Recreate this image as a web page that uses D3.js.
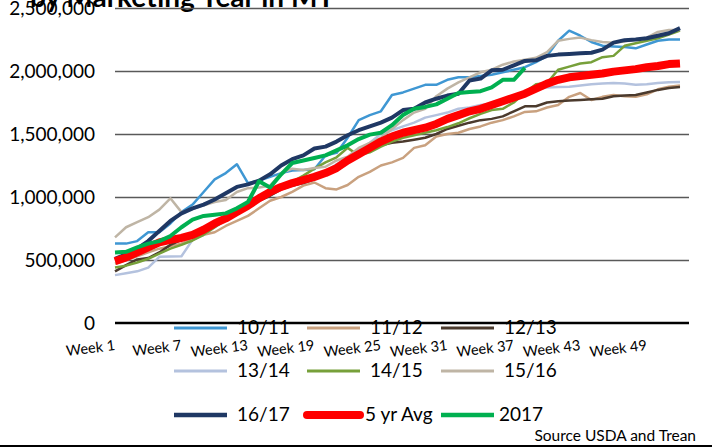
<!DOCTYPE html>
<html>
<head>
<meta charset="utf-8">
<script src="https://cdn.jsdelivr.net/npm/d3@7"></script>
<style>
  body { margin: 0; background: #fff; }
  text { font-family: Lato, "Open Sans", sans-serif; fill: #000; }
</style>
</head>
<body>
<div id="chart"></div>
<script>

// values in thousand MT, week 1..52
let weeks = d3.range(1, 53);
let yTicks = [0, 500, 1000, 1500, 2000, 2500];
let weekTicks = [1, 7, 13, 19, 25, 31, 37, 43, 49];

let s1011 = [630, 630, 650, 720, 720, 790, 880, 940, 1040, 1140, 1190, 1260, 1110, 1130, 1160, 1190, 1210, 1215, 1220, 1330,
    1350, 1470, 1610, 1650, 1680, 1810, 1830, 1860, 1890, 1890, 1930, 1950, 1950, 1960, 1970, 1990, 2010, 2030, 2070, 2120,
    2240, 2320, 2280, 2230, 2200, 2195, 2190, 2180, 2210, 2240, 2250, 2250];
let s1112 = [470, 500, 530, 560, 590, 610, 630, 670, 700, 720, 770, 810, 850, 910, 970, 1000, 1040, 1090, 1115, 1070,
    1060, 1095, 1160, 1200, 1250, 1275, 1310, 1390, 1410, 1480, 1500, 1510, 1540, 1560, 1590, 1610, 1640, 1675, 1680, 1710,
    1730, 1795, 1825, 1770, 1795, 1810, 1800, 1795, 1815, 1855, 1875, 1885];
let s1213 = [410, 460, 505, 515, 560, 620, 660, 700, 740, 780, 830, 880, 920, 970, 1010, 1060, 1090, 1110, 1140, 1180,
    1230, 1290, 1340, 1390, 1410, 1430, 1440, 1455, 1470, 1500, 1540, 1565, 1590, 1610, 1620, 1640, 1680, 1720, 1720, 1750,
    1760, 1765, 1770, 1775, 1780, 1800, 1805, 1810, 1830, 1850, 1865, 1873];
let s1314 = [380, 395, 410, 440, 525, 528, 530, 660, 700, 760, 820, 870, 920, 980, 1030, 1080, 1110, 1130, 1160, 1200,
    1260, 1310, 1370, 1430, 1500, 1530, 1560, 1590, 1630, 1650, 1670, 1700, 1710, 1730, 1740, 1750, 1770, 1820, 1850, 1870,
    1873, 1875, 1885, 1895, 1900, 1905, 1900, 1890, 1895, 1905, 1910, 1913];
let s1415 = [440, 455, 480, 510, 550, 590, 620, 655, 700, 760, 820, 870, 930, 990, 1040, 1090, 1120, 1170, 1225, 1275,
    1315, 1390, 1330, 1355, 1400, 1440, 1470, 1490, 1510, 1530, 1555, 1585, 1625, 1660, 1690, 1700, 1750, 1830, 1895, 1905,
    2010, 2035, 2060, 2070, 2110, 2120, 2200, 2220, 2240, 2260, 2290, 2320];
let s1516 = [680, 760, 800, 840, 900, 990, 880, 905, 935, 960, 976, 1040, 1070, 1075, 1090, 1190, 1225, 1215, 1230, 1240,
    1290, 1320, 1390, 1430, 1470, 1540, 1610, 1670, 1700, 1800, 1860, 1910, 1950, 1990, 2010, 2050, 2075, 2090, 2105, 2150,
    2240, 2255, 2265, 2245, 2230, 2225, 2235, 2250, 2265, 2310, 2325, 2325];
let s1617 = [510, 545, 590, 650, 730, 810, 870, 910, 940, 980, 1030, 1080, 1100, 1130, 1180, 1250, 1300, 1330, 1385, 1400,
    1440, 1490, 1530, 1560, 1590, 1630, 1690, 1700, 1750, 1780, 1805, 1820, 1925, 1940, 2005, 2010, 2045, 2080, 2085, 2120,
    2130, 2135, 2140, 2145, 2170, 2225, 2245, 2250, 2260, 2280, 2300, 2340];
let avg5 = [490, 520, 560, 600, 640, 660, 675, 700, 740, 790, 830, 880, 930, 990, 1040, 1080, 1110, 1135, 1160, 1190,
    1230, 1290, 1340, 1390, 1440, 1480, 1510, 1530, 1550, 1580, 1620, 1650, 1680, 1700, 1730, 1760, 1790, 1820, 1860, 1900,
    1930, 1950, 1960, 1970, 1980, 1995, 2005, 2015, 2030, 2040, 2055, 2060];
let s2017 = [560, 565, 600, 630, 650, 690, 760, 820, 850, 860, 870, 910, 960, 1125, 1075, 1180, 1270, 1290, 1310, 1330,
    1370, 1410, 1460, 1495, 1510, 1570, 1650, 1700, 1715, 1735, 1780, 1825, 1833, 1840, 1870, 1930, 1930, 2025];

let series = [
    { name: "10/11", values: s1011, color: "#3f97d3", width: 2.5 },
    { name: "11/12", values: s1112, color: "#c9a17f", width: 2.5 },
    { name: "12/13", values: s1213, color: "#4b3a2d", width: 2.5 },
    { name: "13/14", values: s1314, color: "#b4c2de", width: 2.5 },
    { name: "14/15", values: s1415, color: "#77a03a", width: 2.5 },
    { name: "15/16", values: s1516, color: "#bfb5a5", width: 2.5 },
    { name: "16/17", values: s1617, color: "#1f3864", width: 4 },
    { name: "5 yr Avg", values: avg5, color: "#ff0000", width: 8 },
    { name: "2017", values: s2017, color: "#00b050", width: 4 }
];

let svgWidth = 712;
let svgHeight = 448;

let svg = d3.select("#chart")
    .append("svg")
    .attr("width", svgWidth)
    .attr("height", svgHeight);

svg.append("rect")
    .attr("width", svgWidth)
    .attr("height", svgHeight)
    .attr("fill", "#fff");

let plotLeft = 115, plotRight = 689, plotTop = 8, plotBottom = 323;

let xScale = d3.scaleLinear()
    .domain([1, 52])
    .range([plotLeft, 680]);

let yScale = d3.scaleLinear()
    .domain([0, 2500])
    .range([plotBottom, plotTop]);

// title, second line only partly visible at the top
svg.append("text")
    .attr("x", 30)
    .attr("y", 7)
    .style("font-size", "28px")
    .style("font-weight", "bold")
    .text("by Marketing Year in MT");

// gridlines
let grid = svg.append("g")
    .attr("transform", `translate(${plotLeft}, 0)`)
    .call(d3.axisLeft(yScale).tickValues(yTicks.slice(1)).tickSize(-(plotRight - plotLeft)).tickFormat(""));
grid.select(".domain").remove();
grid.selectAll("line").attr("stroke", "#595959").attr("stroke-width", 1.3);

// y labels
let yAxis = svg.append("g")
    .attr("transform", "translate(95, 0)")
    .call(d3.axisLeft(yScale).tickValues(yTicks).tickSize(0).tickPadding(0)
        .tickFormat(d => d3.format(",")(d * 1000)));
yAxis.select(".domain").remove();
yAxis.selectAll("text")
    .style("font-size", "19px")
    .style("font-family", "Lato, sans-serif");

// lines
let line = d3.line()
    .x((d, i) => xScale(weeks[i]))
    .y(d => yScale(d));

svg.append("g").selectAll("path")
    .data(series)
    .enter()
    .append("path")
    .attr("d", d => line(d.values))
    .attr("fill", "none")
    .attr("stroke", d => d.color)
    .attr("stroke-width", d => d.width)
    .attr("stroke-linejoin", "round");

// zero axis
svg.append("line")
    .attr("x1", plotLeft)
    .attr("x2", plotRight)
    .attr("y1", yScale(0))
    .attr("y2", yScale(0))
    .attr("stroke", "#000")
    .attr("stroke-width", 2.5);

// week labels
let xAxis = svg.append("g")
    .attr("transform", "translate(0, 350)")
    .call(d3.axisBottom(xScale).tickValues(weekTicks).tickSize(0).tickPadding(0)
        .tickFormat(d => "Week " + d));
xAxis.select(".domain").remove();
xAxis.selectAll("text")
    .attr("y", 0)
    .attr("dy", 0)
    .attr("text-anchor", "end")
    .attr("transform", "rotate(-7)")
    .style("font-size", "14.5px")
    .style("font-family", "Lato, sans-serif");

// legend
let legendRows = [328, 371, 415];
let legendCols = [174, 307, 441];
let legend = svg.append("g").selectAll("g")
    .data(series)
    .enter()
    .append("g")
    .attr("transform", (d, i) => `translate(${legendCols[i % 3]}, ${legendRows[Math.floor(i / 3)]})`);

legend.append("line")
    .attr("x1", 0)
    .attr("x2", 53)
    .attr("stroke", d => d.color)
    .attr("stroke-width", d => d.name === "5 yr Avg" ? 8 : (d.width > 3 ? 4.5 : 3))
    .attr("stroke-linecap", d => d.name === "5 yr Avg" ? "round" : "butt");

legend.append("text")
    .attr("x", d => d.name === "5 yr Avg" ? 58 : (d.name === "2017" ? 58 : 63))
    .attr("y", 1)
    .attr("dominant-baseline", "middle")
    .style("font-size", "19px")
    .text(d => d.name);

svg.append("text")
    .attr("x", 696)
    .attr("y", 437)
    .attr("text-anchor", "end")
    .attr("dominant-baseline", "middle")
    .style("font-size", "15.5px")
    .text("Source USDA and Trean");

svg.append("line")
    .attr("x1", 0)
    .attr("x2", svgWidth)
    .attr("y1", 446)
    .attr("y2", 446)
    .attr("stroke", "#000")
    .attr("stroke-width", 2);

</script>
</body>
</html>
